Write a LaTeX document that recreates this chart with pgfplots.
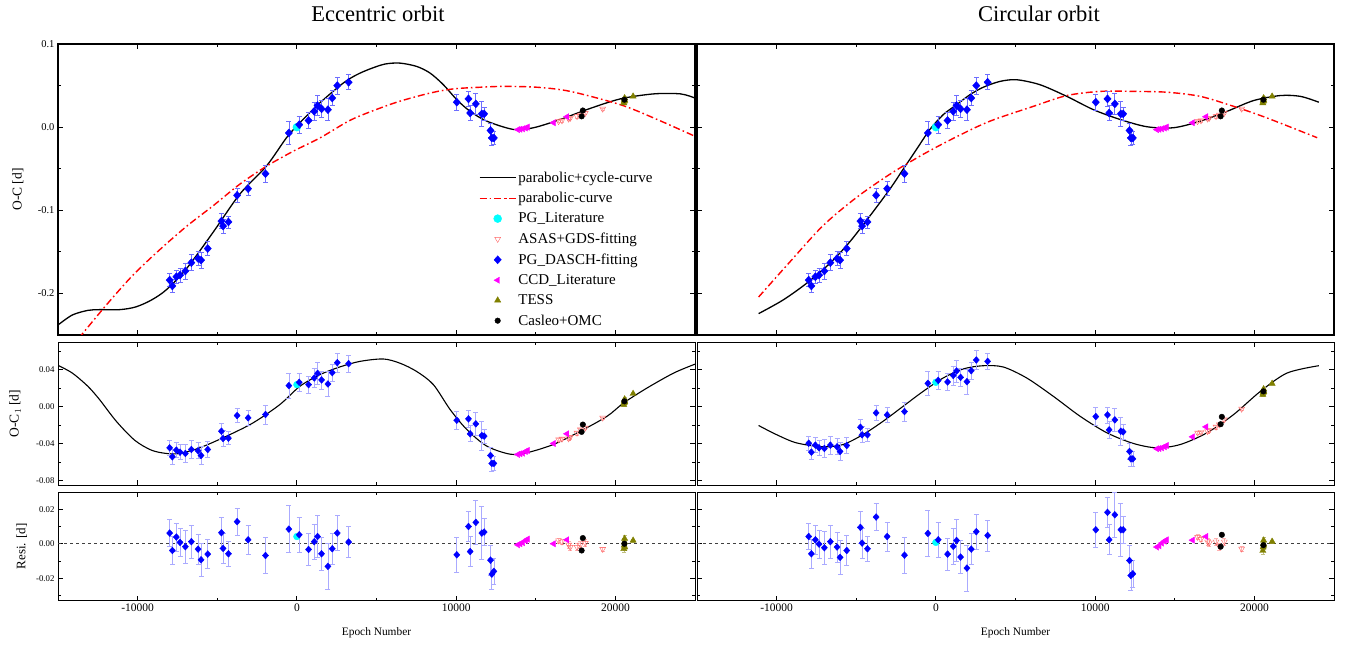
\documentclass[border=0pt]{standalone}
\usepackage{pgfplots}
\pgfplotsset{compat=1.18}
\usepackage{pgfplotstable}
\usepackage{fontspec}
\setmainfont{Liberation Serif}

\definecolor{cyn}{RGB}{0,255,255}
\definecolor{mgt}{RGB}{255,0,255}
\definecolor{asas}{RGB}{255,100,100}
\definecolor{tess}{RGB}{128,128,0}
\definecolor{errb}{RGB}{110,110,255}
\definecolor{errbl}{RGB}{170,170,255}

% PG_DASCH-fitting: epoch, O-C, O-C1 (ecc), resid (ecc), O-C1 (circ), resid (circ), error
\pgfplotstableread{
E top ocL resL ocR resR err
-7987 -0.184 -0.0447 0.0062 -0.0397 0.0042 0.0077
-7818 -0.191 -0.0544 -0.0039 -0.0494 -0.0058 0.0082
-7568 -0.180 -0.0472 0.0039 -0.0418 0.0023 0.0082
-7338 -0.178 -0.0494 0.0008 -0.0447 -0.0002 0.0082
-7002 -0.173 -0.0508 -0.0017 -0.0454 -0.0023 0.0097
-6625 -0.163 -0.0465 0.0012 -0.0418 0.0012 0.0097
-6205 -0.158 -0.0479 -0.0031 -0.0436 -0.0019 0.0087
-6017 -0.160 -0.0530 -0.0093 -0.0486 -0.0079 0.0097
-5597 -0.146 -0.0465 -0.0060 -0.0422 -0.0039 0.0085
-4738 -0.113 -0.0267 0.0064 -0.0224 0.0095 0.0090
-4633 -0.119 -0.0346 -0.0027 -0.0306 0.0004 0.0087
-4297 -0.114 -0.0342 -0.0058 -0.0306 -0.0029 0.0072
-3753 -0.082 -0.0097 0.0128 -0.0068 0.0155 0.0079
-3061 -0.074 -0.0122 0.0023 -0.0090 0.0042 0.0084
-1971 -0.056 -0.0086 -0.0068 -0.0054 -0.0066 0.0104
-503 -0.007 0.0227 0.0085 0.0252 0.0060 0.0135
147 0.003 0.0263 0.0052 0.0284 0.0023 0.0102
734 0.008 0.0238 -0.0033 0.0267 -0.0060 0.0094
1090 0.019 0.0310 0.0012 0.0338 -0.0015 0.0103
1300 0.026 0.0360 0.0042 0.0386 0.0019 0.0120
1551 0.022 0.0289 -0.0058 0.0317 -0.0077 0.0097
1950 0.021 0.0245 -0.0131 0.0270 -0.0141 0.0132
2222 0.035 0.0368 -0.0029 0.0389 -0.0031 0.0090
2537 0.050 0.0476 0.0062 0.0505 0.0070 0.0100
3250 0.054 0.0465 0.0010 0.0490 0.0048 0.0090
10042 0.030 -0.0148 -0.0064 -0.0108 0.0081 0.0100
10776 0.034 -0.0133 0.0100 -0.0090 0.0182 0.0087
10881 0.017 -0.0295 -0.0045 -0.0252 0.0023 0.0087
11237 0.028 -0.0187 0.0124 -0.0144 0.0168 0.0128
11614 0.016 -0.0314 0.0062 -0.0267 0.0081 0.0155
11761 0.016 -0.0320 0.0068 -0.0274 0.0081 0.0077
12159 -0.004 -0.0530 -0.0095 -0.0486 -0.0097 0.0087
12243 -0.013 -0.0616 -0.0176 -0.0566 -0.0184 0.0087
12369 -0.013 -0.0616 -0.0160 -0.0566 -0.0174 0.0077
}\bluedata

\pgfplotstableread{
E top ocL resL ocR resR
0 0.000 0.0238 0.0042 0.0263 0.0008
}\cyandata

\pgfplotstableread{
E top ocL resL ocR resR
13880 -0.003 -0.0519 -0.0006 -0.0457 -0.0019
14025 -0.0025 -0.0511 0.0000 -0.0454 -0.0012
14195 -0.002 -0.0505 0.0006 -0.0447 0.0004
14358 -0.001 -0.0486 0.0019 -0.0435 0.0015
14484 0.000 -0.0476 0.0027 -0.0422 0.0023
16120 0.0053 -0.0400 0.0000 -0.0328 0.0021
16962 0.0125 -0.0295 0.0023 -0.0220 0.0042
}\mgtdata

\pgfplotstableread{
E top ocL resL ocR resR err
16434 0.007 -0.0357 0.0019 -0.0284 0.0039 0.0015
16647 0.008 -0.0350 0.0012 -0.0278 0.0027 0.0015
17063 0.010 -0.0346 -0.0006 -0.0267 0.0012 0.0020
17170 0.011 -0.0330 -0.0019 -0.0256 0.0006 0.0020
17591 0.013 -0.0285 -0.0019 -0.0220 0.0012 0.0020
17799 0.015 -0.0249 -0.0006 -0.0195 -0.0015 0.0020
18113 0.017 -0.0230 0.0004 -0.0141 0.0012 0.0020
19200 0.022 -0.0122 -0.0031 -0.0025 -0.0029 0.0012
}\asasdata

\pgfplotstableread{
E top ocL resL ocR resR
17881 0.013 -0.0274 -0.0039 -0.0191 -0.0017
17956 0.020 -0.0195 0.0033 -0.0111 0.0052
20566 0.033 0.0057 0.0000 0.0165 -0.0008
}\blkdata

\pgfplotstableread{
E top ocL resL ocR resR err
20530 0.029 0.002 -0.003 0.013 -0.004 0.002
20550 0.031 0.004 -0.001 0.015 -0.002 0.002
20570 0.033 0.006 0.001 0.017 0.000 0.002
20580 0.035 0.008 0.003 0.019 0.002 0.002
20590 0.032 0.005 -0.002 0.016 -0.001 0.002
21113 0.037 0.014 0.0019 0.0249 0.0013 0.001
}\tessdata

% fitted curves
\pgfplotstableread{
E v
-15000 -0.238
-14107 -0.226
-13126 -0.2204
-12390 -0.2195
-11132 -0.2195
-10126 -0.2163
-9140 -0.208
-8197 -0.1956
-6939 -0.1704
-5262 -0.1265
-3585 -0.0806
-1908 -0.0467
-650 -0.0127
189 0.0053
1447 0.0292
2912 0.053
3755 0.063
4591 0.070
5535 0.0759
6478 0.077
7528 0.073
8365 0.065
9201 0.051
10044 0.033
10881 0.019
11931 0.0072
13606 -0.0028
14864 -0.0007
16541 0.0092
18220 0.0212
20314 0.034
22409 0.040
24088 0.040
25000 0.035
}\LBtop

\pgfplotstableread{
E v
-13700 -0.254
-11969 -0.214
-10294 -0.178
-8616 -0.1475
-6939 -0.1195
-5262 -0.0946
-3585 -0.0686
-1908 -0.0470
-231 -0.0290
1447 -0.0130
3124 0.0060
4170 0.0152
6270 0.030
8365 0.041
9832 0.046
11509 0.048
12975 0.049
15075 0.048
17170 0.043
20314 0.027
22409 0.011
25000 -0.011
}\LRtop

\pgfplotstableread{
E v
-11132 -0.2243
-9604 -0.208
-8132 -0.188
-6667 -0.164
-5409 -0.138
-4151 -0.107
-2893 -0.0746
-2057 -0.0507
-1214 -0.0267
-377 -0.0028
459 0.015
1302 0.027
2138 0.039
2975 0.048
4025 0.055
5075 0.057
6541 0.051
8220 0.037
9893 0.021
11572 0.0092
13252 0.0005
14924 -0.0007
16604 0.0072
18283 0.019
19956 0.032
21635 0.038
22893 0.037
24044 0.030
}\RBtop

\pgfplotstableread{
E v
-11132 -0.2043
-9182 -0.1624
-7088 -0.1185
-4987 -0.0846
-2893 -0.0567
-799 -0.0327
1302 -0.0115
3396 0.0072
6120 0.025
8220 0.038
10314 0.043
12409 0.043
14509 0.042
16604 0.037
18698 0.025
20799 0.011
23943 -0.0127
}\RRtop

\pgfplotstableread{
E v
-15000 0.0447
-14107 0.0364
-13126 0.022
-12390 0.0076
-11340 -0.0159
-10189 -0.0364
-9140 -0.0472
-8197 -0.0508
-7358 -0.0508
-6101 -0.0447
-4421 -0.0321
-2748 -0.0176
-1069 0.0022
189 0.022
1447 0.0346
2704 0.043
3962 0.049
5428 0.0516
6478 0.047
7528 0.038
8572 0.0238
9623 -0.0032
10673 -0.0249
11931 -0.0429
13396 -0.0516
14447 -0.050
16120 -0.041
17799 -0.0267
19478 -0.0105
20522 0.004
21994 0.0202
23667 0.0364
25000 0.046
}\LOCone

\pgfplotstableread{
E v
-11132 -0.0205
-10019 -0.0303
-8761 -0.0393
-7088 -0.0436
-5830 -0.0411
-4572 -0.0303
-3314 -0.0159
-2057 0.0003
-799 0.0165
459 0.031
1717 0.0408
2975 0.0443
4233 0.0429
5704 0.031
7377 0.0111
9057 -0.0105
10736 -0.0284
12409 -0.040
13880 -0.0447
15346 -0.0411
17025 -0.0284
18698 -0.0086
20377 0.0165
22057 0.0364
24044 0.0443
}\ROCone

\pgfplotsset{
  legend image code/.code={\draw[mark repeat=2,mark phase=2,#1] plot coordinates {(0bp,0bp) (18bp,0bp) (36bp,0bp)};},
  base/.style={scale only axis, width=637bp, xmin=-15000, xmax=25000,
    scaled ticks=false,
    tick align=inside, xtick={-10000,0,10000,20000}, minor xtick={-5000,5000,15000},
    major tick length=5bp, minor tick length=3bp,
    /pgf/number format/assume math mode=true,
    /pgf/number format/set thousands separator={},
    tick style={black}},
  toppan/.style={base, height=291bp, ymin=-0.25, ymax=0.1,
    ytick={-0.2,-0.1,0,0.1}, minor ytick={-0.15,-0.05,0.05},
    xticklabels={}, axis line style={line width=1.6bp}, every tick/.style={black, line width=1.2bp},
    yticklabel style={/pgf/number format/.cd, fixed, fixed zerofill, precision=1, /tikz/.cd, font=\fontsize{10.5bp}{12bp}\selectfont},
    ylabel style={at={(axis description cs:-0.063,0.5)}, anchor=center, font=\fontsize{13.5bp}{15bp}\selectfont}},
  midpan/.style={base, height=143bp, ymin=-0.085, ymax=0.07,
    ytick={-0.08,-0.04,0,0.04}, minor ytick={-0.06,-0.02,0.02,0.06},
    xticklabels={}, axis line style={line width=0.9bp}, every tick/.style={black, line width=0.8bp},
    yticklabel style={/pgf/number format/.cd, fixed, fixed zerofill, precision=2, /tikz/.cd, font=\fontsize{8.8bp}{10bp}\selectfont},
    ylabel style={at={(axis description cs:-0.0675,0.5)}, anchor=center, font=\fontsize{13.5bp}{15bp}\selectfont}},
  botpan/.style={base, height=108.7bp, ymin=-0.033, ymax=0.03,
    ytick={-0.02,0,0.02}, minor ytick={-0.03,-0.01,0.01,0.03},
    axis line style={line width=0.9bp}, every tick/.style={black, line width=0.8bp},
    xticklabel style={font=\fontsize{11.5bp}{13bp}\selectfont},
    yticklabel style={/pgf/number format/.cd, fixed, fixed zerofill, precision=2, /tikz/.cd, font=\fontsize{8.8bp}{10bp}\selectfont},
    xlabel={Epoch Number},
    xlabel style={at={(axis description cs:0.5,0)}, anchor=center, yshift=-32bp, font=\fontsize{11.4bp}{13bp}\selectfont},
    ylabel style={at={(axis description cs:-0.057,0.5)}, anchor=center, font=\fontsize{13bp}{15bp}\selectfont}},
  fitline/.style={black, line width=1.3bp, smooth, tension=0.5},
  parline/.style={red, line width=1.4bp, dash pattern=on 7bp off 3bp on 1.6bp off 3bp, smooth, tension=0.5},
}

\newcommand\points[3]{%
  \addplot[only marks, mark=*, cyn, mark size=#3] table[x=E,y=#1]{\cyandata};
  \addplot[only marks, mark=triangle, asas, mark options={rotate=180}, mark size=3.4bp,
    error bars/.cd, y dir=both, y explicit, error bar style={asas!50, line width=0.6bp},
    error mark options={rotate=90, asas!50, mark size=2bp}] table[x=E,y=#1,y error=err]{\asasdata};
  \addplot[only marks, mark=diamond*, blue, mark size=#3, mark options={xscale=1.2},
    error bars/.cd, y dir=both, y explicit, error bar style={#2, line width=0.7bp},
    error mark options={rotate=90, #2, mark size=2.5bp, line width=0.7bp}] table[x=E,y=#1,y error=err]{\bluedata};
  \addplot[only marks, mark=triangle*, mgt, mark options={rotate=90}, mark size=3.6bp] table[x=E,y=#1]{\mgtdata};
  \addplot[only marks, mark=triangle*, tess, mark size=3.6bp,
    error bars/.cd, y dir=both, y explicit, error bar style={tess!50, line width=0.6bp},
    error mark options={rotate=90, tess!50, mark size=2bp}] table[x=E,y=#1,y error=err]{\tessdata};
  \addplot[only marks, mark=*, black, mark size=2.8bp] table[x=E,y=#1]{\blkdata};
}

\newcommand\zeroline{\addplot[black!75, line width=0.9bp, dash pattern=on 3bp off 3bp] coordinates {(-15000,0) (25000,0)};}

\begin{document}
\begin{tikzpicture}
\path[use as bounding box] (0bp,0bp) rectangle (1348bp,-648bp);

\node[font=\fontsize{22.5bp}{26bp}\selectfont] at (378bp,-14bp) {Eccentric orbit};
\node[font=\fontsize{22.5bp}{26bp}\selectfont] at (1039bp,-14bp) {Circular orbit};

% ---------- left column: eccentric orbit ----------
\begin{axis}[toppan, at={(58bp,-44bp)}, anchor=north west, ylabel={O-C [d]},
  legend entries={parabolic+cycle-curve, parabolic-curve, PG\_Literature, ASAS+GDS-fitting, PG\_DASCH-fitting, CCD\_Literature, TESS, Casleo+OMC},
  legend cell align=left,
  legend style={at={(axis description cs:0.659,0.572)}, anchor=north west, draw=none, fill=none,
    font=\fontsize{15bp}{17bp}\selectfont, row sep=4.7bp, inner sep=1bp}]
  \addplot[fitline] table[x=E,y=v]{\LBtop};
  \addplot[parline] table[x=E,y=v]{\LRtop};
  \points{top}{errb}{4bp}
\end{axis}

\begin{axis}[midpan, at={(58bp,-342bp)}, anchor=north west, ylabel={O-C$_1$ [d]}]
  \addplot[fitline, line width=1.1bp] table[x=E,y=v]{\LOCone};
  \points{ocL}{errbl}{3.4bp}
\end{axis}

\begin{axis}[botpan, at={(58bp,-492bp)}, anchor=north west, ylabel={Resi. [d]}]
  \zeroline
  \points{resL}{errbl}{3.4bp}
\end{axis}

% ---------- right column: circular orbit ----------
\begin{axis}[toppan, at={(697bp,-44bp)}, anchor=north west, yticklabels={}]
  \addplot[fitline] table[x=E,y=v]{\RBtop};
  \addplot[parline] table[x=E,y=v]{\RRtop};
  \points{top}{errb}{4bp}
\end{axis}

\begin{axis}[midpan, at={(697bp,-342bp)}, anchor=north west, yticklabels={}]
  \addplot[fitline, line width=1.1bp] table[x=E,y=v]{\ROCone};
  \points{ocR}{errbl}{3.4bp}
\end{axis}

\begin{axis}[botpan, at={(697bp,-492bp)}, anchor=north west, yticklabels={}]
  \zeroline
  \points{resR}{errbl}{3.4bp}
\end{axis}
\end{tikzpicture}
\end{document}
